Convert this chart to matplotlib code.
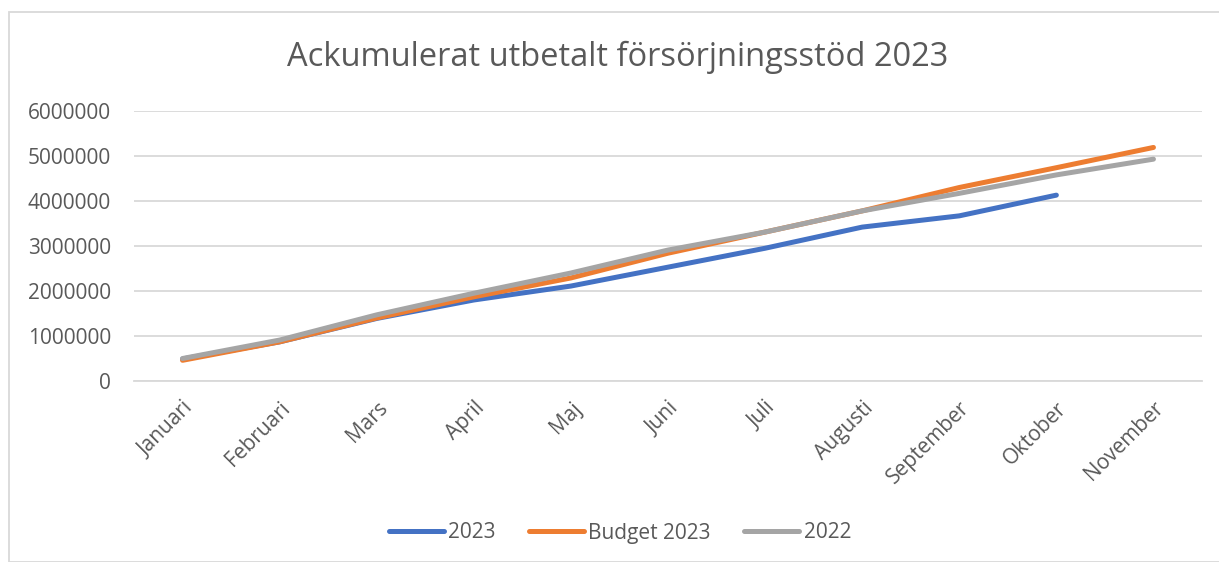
import matplotlib.pyplot as plt
from matplotlib.patches import Rectangle

MONTHS = ["Januari", "Februari", "Mars", "April", "Maj", "Juni", "Juli",
          "Augusti", "September", "Oktober", "November"]

UTFALL_2023 = [490000, 870000, 1390000, 1800000, 2110000, 2530000, 2950000,
               3420000, 3670000, 4130000]
BUDGET_2023 = [460000, 870000, 1400000, 1870000, 2290000, 2840000, 3310000,
               3780000, 4300000, 4740000, 5190000]
UTFALL_2022 = [500000, 910000, 1470000, 1950000, 2400000, 2910000, 3310000,
               3780000, 4170000, 4580000, 4930000]

YTICKS = [0, 1000000, 2000000, 3000000, 4000000, 5000000, 6000000]

TEXT_COLOR = "#595959"
GRID_COLOR = "#D9D9D9"

plt.rcParams["font.family"] = ["Open Sans", "DejaVu Sans"]

fig = plt.figure(figsize=(12.19, 5.62), dpi=100)
W, H = 1219, 562

# chart area border (Excel-style)
fig.patches.append(Rectangle((9 / W, 0), 1.2, 1 - 12 / H, transform=fig.transFigure,
                             fill=False, edgecolor=GRID_COLOR, linewidth=1.3))

ax = fig.add_axes([134 / W, 1 - 381 / H, (1202 - 134) / W, (381 - 111) / H])

x = list(range(len(MONTHS)))
lw = 3.6
ax.plot(x[:len(UTFALL_2023)], UTFALL_2023, color="#4472C4", lw=lw,
        solid_capstyle="round", solid_joinstyle="round", label="2023")
ax.plot(x, BUDGET_2023, color="#ED7D31", lw=lw,
        solid_capstyle="round", solid_joinstyle="round", label="Budget 2023")
ax.plot(x, UTFALL_2022, color="#A5A5A5", lw=lw,
        solid_capstyle="round", solid_joinstyle="round", label="2022")

ax.set_xlim(-0.5, len(MONTHS) - 0.5)
ax.set_ylim(0, 6000000)
ax.set_yticks(YTICKS)
ax.set_yticklabels([str(v) for v in YTICKS])
ax.set_xticks(x)
ax.set_xticklabels(MONTHS, rotation=45, ha="right", va="top", rotation_mode="anchor")

ax.grid(axis="y", color=GRID_COLOR, linewidth=1.3)
ax.set_axisbelow(True)
for side in ["top", "right", "left"]:
    ax.spines[side].set_visible(False)
ax.spines["bottom"].set_color(GRID_COLOR)
ax.spines["bottom"].set_linewidth(1.3)
ax.tick_params(axis="both", length=0, labelsize=15, colors=TEXT_COLOR)
ax.tick_params(axis="y", pad=16.5)
ax.tick_params(axis="x", pad=12)

fig.text(618 / W, 1 - 57 / H, "Ackumulerat utbetalt försörjningsstöd 2023",
         ha="center", va="center", fontsize=23.5, color=TEXT_COLOR)

leg = fig.legend(loc="center", bbox_to_anchor=(620 / W, 1 - 533 / H), ncol=3,
                 frameon=False, fontsize=15, handlelength=2.65, columnspacing=1.6,
                 handletextpad=0.2)
for t in leg.get_texts():
    t.set_color(TEXT_COLOR)

fig.savefig("out.png", dpi=100)
